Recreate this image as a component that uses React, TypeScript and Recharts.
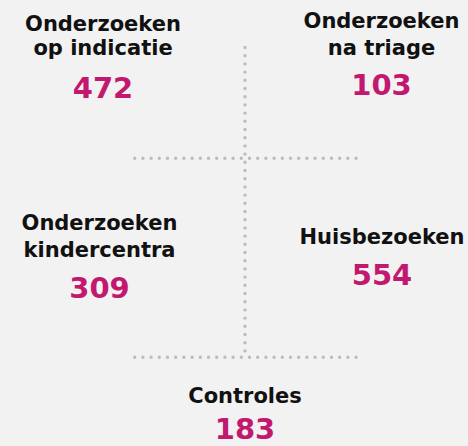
import React from "react";
import { ScatterChart, Scatter, XAxis, YAxis, ReferenceLine } from "recharts";

// ---- data ----
const categories: string[][] = [
  ["Onderzoeken", "op indicatie"],
  ["Onderzoeken", "na triage"],
  ["Onderzoeken", "kindercentra"],
  ["Huisbezoeken"],
  ["Controles"],
];
const values: number[] = [472, 103, 309, 554, 183];

// ---- layout (separate from data) ----
const anchorX: number[] = [103, 381.5, 99.5, 382, 245];
const anchorY: number[] = [31, 28, 229.5, 243.5, 403];
const lineGap: number[] = [23.5, 27, 27.5, 0, 0];
const numGap: number[] = [43, 40, 40.5, 41, 36];

const W = 468;
const H = 446;
const MAGENTA = "#c2186f";
const DOT = "#bcbcbc";
const FONT = "'DejaVu Sans', sans-serif";

const table = categories.map((lines, i) => ({
  x: anchorX[i],
  y: anchorY[i],
  lines,
  value: values[i],
  gap: lineGap[i],
  ngap: numGap[i],
}));

const LabelShape = (props: any) => {
  const { cx, cy, payload } = props;
  const lines: string[] = payload.lines;
  const lastY = cy + (lines.length - 1) * payload.gap;
  return (
    <g>
      {lines.map((l, k) => (
        <text
          key={k}
          x={cx}
          y={cy + k * payload.gap}
          textAnchor="middle"
          fontFamily={FONT}
          fontWeight={700}
          fontSize={21}
          fill="#111111"
        >
          {l}
        </text>
      ))}
      <text
        x={cx}
        y={lastY + payload.ngap}
        textAnchor="middle"
        fontFamily={FONT}
        fontWeight={700}
        fontSize={29}
        fill={MAGENTA}
      >
        {payload.value}
      </text>
    </g>
  );
};

const dotted = {
  stroke: DOT,
  strokeWidth: 3.4,
  strokeDasharray: "0 8.2",
  strokeLinecap: "round" as const,
};

export default function App() {
  return (
    <div style={{ position: "absolute", left: 0, top: 0, width: W, height: H, background: "#f2f2f2" }}>
      <ScatterChart width={W} height={H} margin={{ top: 0, right: 0, bottom: 0, left: 0 }}>
        <XAxis type="number" dataKey="x" domain={[0, W]} hide />
        <YAxis type="number" dataKey="y" domain={[0, H]} reversed hide />
        <ReferenceLine segment={[{ x: 245, y: 47.5 }, { x: 245, y: 352 }]} {...dotted} />
        <ReferenceLine segment={[{ x: 134.7, y: 158.3 }, { x: 357, y: 158.3 }]} {...dotted} />
        <ReferenceLine segment={[{ x: 134.7, y: 357.3 }, { x: 357, y: 357.3 }]} {...dotted} />
        <Scatter data={table} shape={LabelShape} isAnimationActive={false} />
      </ScatterChart>
    </div>
  );
}
